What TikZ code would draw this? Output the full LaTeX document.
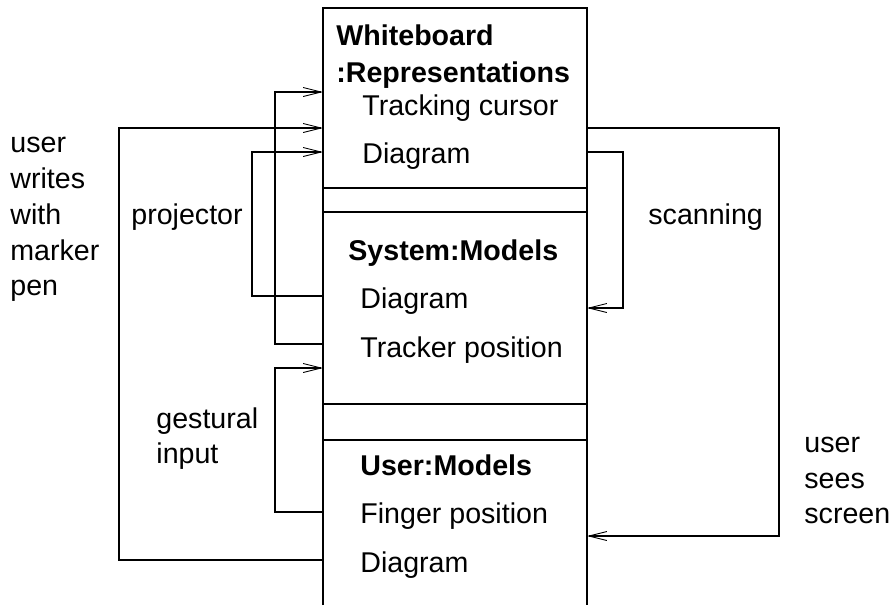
\documentclass[tikz,border=0pt]{standalone}
\usepackage{fontspec}
\setmainfont{Liberation Sans}
\usetikzlibrary{arrows.meta}
\begin{document}
\begin{tikzpicture}[x=0.5pt,y=-0.5pt,
  lbl/.style={anchor=base west,inner sep=0pt,font=\fontsize{14.3}{18}\selectfont},
  ttl/.style={lbl,font=\fontsize{14.3}{18}\selectfont\bfseries},
  wire/.style={line width=0.6pt},
  flow/.style={wire,-{Straight Barb[length=9pt,width=4.5pt,line width=0.45pt]}}]
\useasboundingbox (0,0) rectangle (893,605);

% the stacked object box, open at the bottom
\draw[wire] (323,605) -- (323,8) -- (587,8) -- (587,605);
\draw[wire] (323,188) -- (587,188);
\draw[wire] (323,212) -- (587,212);
\draw[wire] (323,404) -- (587,404);
\draw[wire] (323,440) -- (587,440);

% compartment contents
\node[ttl] (wbT1) at (336,45) {Whiteboard};
\node[ttl] (wbT2) at (336,82) {:Representations};
\node[lbl] (wbCur) at (362,115) {Tracking cursor};
\node[lbl] (wbDg) at (362,163) {Diagram};

\node[ttl] (sysT) at (348,260) {System:Models};
\node[lbl] (sysDg) at (360,308) {Diagram};
\node[lbl] (sysTp) at (360,357) {Tracker position};

\node[ttl] (usrT) at (360,475) {User:Models};
\node[lbl] (usrFp) at (360,523) {Finger position};
\node[lbl] (usrDg) at (360,572) {Diagram};

% ports on the box edges
\coordinate (wbTrk) at (323,92);
\coordinate (wbPen) at (323,128);
\coordinate (wbDia) at (323,152);
\coordinate (wbR1) at (587,128);
\coordinate (wbR2) at (587,152);
\coordinate (sysDia) at (323,296);
\coordinate (sysTrk) at (323,344);
\coordinate (sysIn) at (323,368);
\coordinate (sysR) at (587,308);
\coordinate (usrFin) at (323,512);
\coordinate (usrDia) at (323,560);
\coordinate (usrR) at (587,536);

% flows between compartments
\draw[flow] (sysTrk) -- ++(-48,0) |- (wbTrk);
\draw[flow] (usrDia) -- ++(-204,0) |- (wbPen);
\draw[flow] (sysDia) -- ++(-71,0) |- (wbDia);
\draw[flow] (wbR2) -- ++(36,0) |- (sysR);
\draw[flow] (wbR1) -- ++(192,0) |- (usrR);
\draw[flow] (usrFin) -- ++(-48,0) |- (sysIn);

% flow labels
\node[lbl] (pen1) at (10,152) {user};
\node[lbl] (pen2) at (10,188) {writes};
\node[lbl] (pen3) at (10,224) {with};
\node[lbl] (pen4) at (10,260) {marker};
\node[lbl] (pen5) at (10,295) {pen};
\node[lbl] (proj) at (131,224) {projector};
\node[lbl] (scan) at (648,224) {scanning};
\node[lbl] (ges1) at (156,428) {gestural};
\node[lbl] (ges2) at (156,463) {input};
\node[lbl] (see1) at (804,452) {user};
\node[lbl] (see2) at (804,488) {sees};
\node[lbl] (see3) at (804,523) {screen};
\end{tikzpicture}
\end{document}
